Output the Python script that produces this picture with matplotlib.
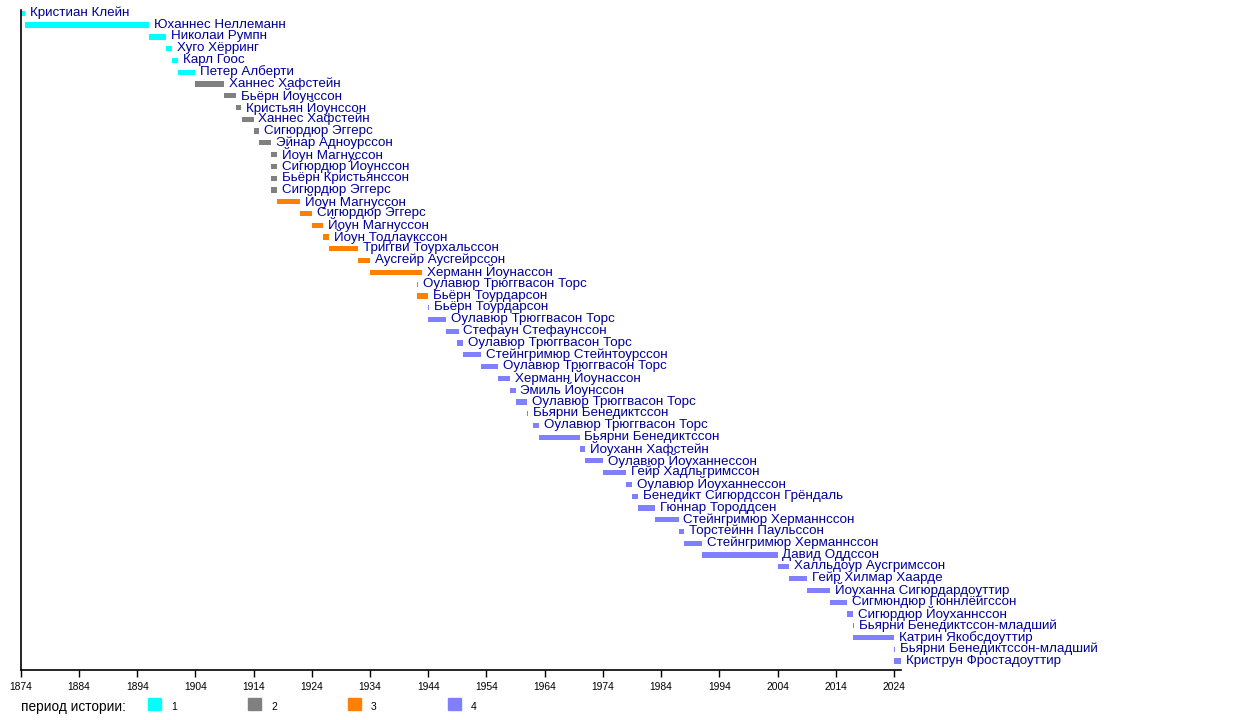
import matplotlib
matplotlib.use('Agg')
import matplotlib.pyplot as plt
from matplotlib.patches import Rectangle

plt.rcParams['font.family'] = ['Liberation Sans', 'DejaVu Sans']

names = [
    'Кристиан Клейн', 'Юханнес Неллеманн', 'Николаи Румпн', 'Хуго Хёрринг',
    'Карл Гоос', 'Петер Алберти', 'Ханнес Хафстейн', 'Бьёрн Йоунссон',
    'Кристьян Йоунссон', 'Ханнес Хафстейн', 'Сигюрдюр Эггерс', 'Эйнар Адноурссон',
    'Йоун Магнуссон', 'Сигюрдюр Йоунссон', 'Бьёрн Кристьянссон', 'Сигюрдюр Эггерс',
    'Йоун Магнуссон', 'Сигюрдюр Эггерс', 'Йоун Магнуссон', 'Йоун Тодлаукссон',
    'Триггви Тоурхальссон', 'Аусгейр Аусгейрссон', 'Херманн Йоунассон',
    'Оулавюр Трюггвасон Торс', 'Бьёрн Тоурдарсон', 'Бьёрн Тоурдарсон',
    'Оулавюр Трюггвасон Торс', 'Стефаун Стефаунссон', 'Оулавюр Трюггвасон Торс',
    'Стейнгримюр Стейнтоурссон', 'Оулавюр Трюггвасон Торс', 'Херманн Йоунассон',
    'Эмиль Йоунссон', 'Оулавюр Трюггвасон Торс', 'Бьярни Бенедиктссон',
    'Оулавюр Трюггвасон Торс', 'Бьярни Бенедиктссон', 'Йоуханн Хафстейн',
    'Оулавюр Йоуханнессон', 'Гейр Хадльгримссон', 'Оулавюр Йоуханнессон',
    'Бенедикт Сигюрдссон Грёндаль', 'Гюннар Тороддсен', 'Стейнгримюр Херманнссон',
    'Торстейнн Паульссон', 'Стейнгримюр Херманнссон', 'Давид Оддссон',
    'Халльдоур Аусгримссон', 'Гейр Хилмар Хаарде', 'Йоуханна Сигюрдардоуттир',
    'Сигмюндюр Гюннлёйгссон', 'Сигюрдюр Йоуханнссон', 'Бьярни Бенедиктссон-младший',
    'Катрин Якобсдоуттир', 'Бьярни Бенедиктссон-младший', 'Криструн Фростадоуттир',
]

starts = [
    1874, 1874.7, 1896, 1899, 1900, 1901, 1904, 1909, 1911, 1912, 1914, 1915,
    1917, 1917, 1917, 1917, 1918, 1922, 1924, 1926, 1927, 1932, 1934, 1942,
    1942, 1944, 1944, 1947, 1949, 1950, 1953, 1956, 1958, 1959, 1961, 1962,
    1963, 1970, 1971, 1974, 1978, 1979, 1980, 1983, 1987, 1988, 1991, 2004,
    2006, 2009, 2013, 2016, 2017, 2017, 2024, 2024,
]

ends = [
    1874.7, 1896, 1899, 1900, 1901, 1904, 1909, 1911, 1911.8, 1914, 1915, 1917,
    1918, 1918, 1918, 1918, 1922, 1924, 1926, 1927, 1932, 1934, 1943, 1942.2,
    1944, 1944.2, 1947, 1949.2, 1950, 1953, 1956, 1958, 1959, 1961, 1961.2, 1963,
    1970, 1971, 1974, 1978, 1979, 1980, 1983, 1987, 1988, 1991, 2004, 2006,
    2009, 2013, 2016, 2017, 2017.2, 2024, 2024.2, 2025.2,
]

periods = [1] * 6 + [2] * 10 + [3] * 9 + [4] * 31

period_colors = {1: '#00ffff', 2: '#808080', 3: '#ff8000', 4: '#8080ff'}
legend_labels = ['1', '2', '3', '4']

year_ticks = list(range(1874, 2025, 10))

fig = plt.figure(figsize=(12.5, 7.2), dpi=100)
ax = fig.add_axes([20.7 / 1250, 1 - 670 / 720, (901 - 20.7) / 1250, (670 - 10) / 720])

rows = list(range(len(names)))
colors = [period_colors[p] for p in periods]
widths = [e - s for s, e in zip(starts, ends)]
ax.barh(rows, widths, left=starts, height=0.45, color=colors, linewidth=0)

for r, e, n in zip(rows, ends, names):
    ax.annotate(n, (e, r), xytext=(3.5, 0.3), textcoords='offset points',
                va='center', ha='left', fontsize=9.6, color='#000099')

ax.set_xlim(1874, 2025.2)
ax.set_ylim(55.76, -0.28)
ax.set_yticks([])
ax.set_xticks(year_ticks)
ax.set_xticklabels([str(y) for y in year_ticks], fontsize=7.4,
                   family=['Liberation Sans Narrow', 'Liberation Sans'])
ax.tick_params(axis='x', direction='out', length=5, width=1, pad=3.5)
for side in ['top', 'right']:
    ax.spines[side].set_visible(False)
for side in ['left', 'bottom']:
    ax.spines[side].set_linewidth(1.2)

# legend row
fig.text(21 / 1250, 1 - 706.5 / 720, 'период истории:', fontsize=9.8, va='center', ha='left')
for i, lab in enumerate(legend_labels):
    x0 = (148 + 100 * i) / 1250
    fig.patches.append(Rectangle((x0, 1 - 709.5 / 720), 13 / 1250, 12 / 720,
                                 transform=fig.transFigure, color=period_colors[i + 1]))
    fig.text((171 + 100 * i) / 1250, 1 - 707 / 720, lab, fontsize=7.5, va='center', ha='left')

fig.savefig('out.png', dpi=100)
